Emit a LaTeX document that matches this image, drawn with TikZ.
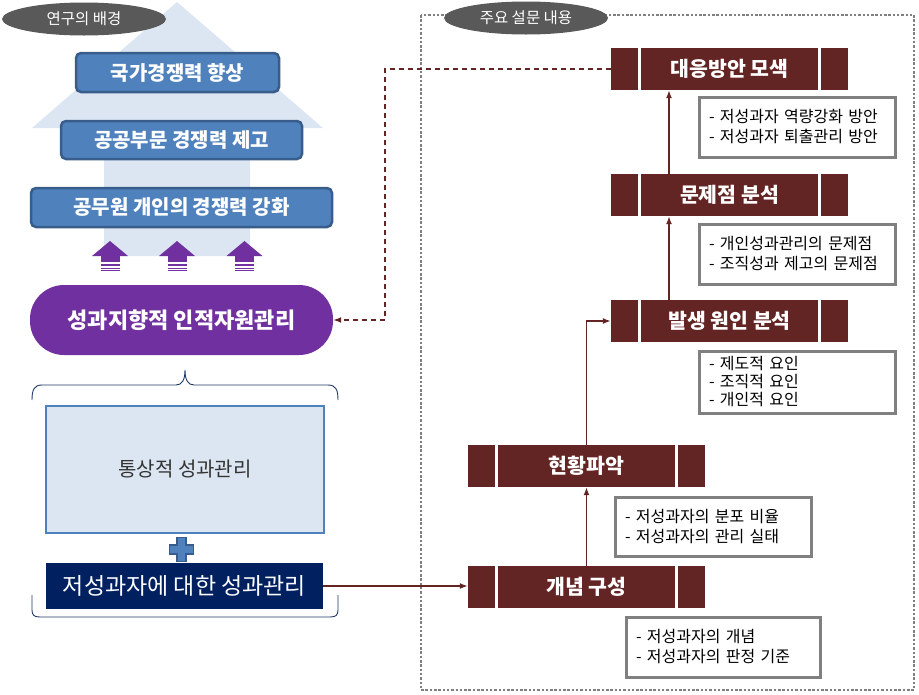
\documentclass[tikz,border=0pt]{standalone}
\usepackage{fontspec}
\setmainfont{Noto Sans CJK KR}
\usetikzlibrary{arrows.meta,shapes.geometric,calc}
\definecolor{arrowbg}{HTML}{DCE6F2}
\definecolor{bfill}{HTML}{4F81BD}
\definecolor{bdr}{HTML}{385D8A}
\definecolor{purp}{HTML}{7030A0}
\definecolor{tagc}{HTML}{595959}
\definecolor{navy}{HTML}{002060}
\definecolor{dred}{HTML}{632523}
\definecolor{lgray}{HTML}{808080}
\definecolor{bracec}{HTML}{1F3864}
\begin{document}
\begin{tikzpicture}[x=1pt,y=-1pt,
  bluebox/.style={draw=bdr, fill=bfill, line width=2.5pt, rounded corners=5pt, text=white, font=\bfseries\fontsize{20}{22}\selectfont, inner sep=0pt},
  redbox/.style={fill=dred, minimum width=237pt, minimum height=42pt, inner sep=0pt, text=white, font=\bfseries\fontsize{20.5}{22}\selectfont},
  listbox/.style={draw=lgray, line width=3pt, fill=white, text width=176pt, minimum height=60pt, inner xsep=10pt, inner ysep=3pt, align=left, font=\fontsize{16}{20}\selectfont},
  tag/.style={ellipse, fill=tagc, text=white, minimum width=164pt, minimum height=33pt, inner sep=0pt, font=\fontsize{15.5}{17}\selectfont},
  conn/.style={draw=dred, line width=1.5pt, -{Latex[length=8pt,width=6pt]}},
  dconn/.style={conn, dash pattern=on 5pt off 4pt},
  sep/.style={draw=white, line width=3pt}
]
\useasboundingbox (0,0) rectangle (919,694);

% big background arrow
\fill[arrowbg] (104,256) -- (104,128) -- (32,128) -- (177,2) -- (323,128) -- (250,128) -- (250,256) -- cycle;

% tags
\node[tag] (tag1) at (84,19) {연구의 배경};

% blue boxes
\node[bluebox, minimum width=203pt, minimum height=39pt] (b1) at (177.5,72.5) {국가경쟁력 향상};
\node[bluebox, minimum width=241pt, minimum height=38pt] (b2) at (181.5,140) {공공부문 경쟁력 제고};
\node[bluebox, minimum width=301pt, minimum height=39pt] (b3) at (181.5,207.5) {공무원 개인의 경쟁력 강화};

% purple small arrows
\foreach \cx in {110,177,244.5}{
  \fill[purp] (\cx-18,256) -- (\cx,241) -- (\cx+18,256) -- cycle;
  \fill[purp] (\cx-9.5,255.5) rectangle (\cx+9.5,262);
  \fill[purp] (\cx-9.5,263.5) rectangle (\cx+9.5,266);
  \fill[purp] (\cx-9.5,267.5) rectangle (\cx+9.5,268.8);
  \fill[purp] (\cx-9.5,269.6) rectangle (\cx+9.5,270.4);
}

% purple node
\node[fill=purp, minimum width=303pt, minimum height=70pt, rounded corners=34pt, inner sep=0pt, text=white, font=\bfseries\fontsize{22}{24}\selectfont] (pur) at (181.5,320) {성과지향적 인적자원관리};

% top brace
\draw[bracec, line width=0.9pt] (32,400) .. controls (32,390) and (34,385) .. (42,385) -- (176,385) .. controls (182,385) and (185,380) .. (185,370) .. controls (185,380) and (188,385) .. (194,385) -- (328,385) .. controls (336,385) and (338,390) .. (338,400);

% light box
\node[draw=bfill, fill=arrowbg, line width=2pt, minimum width=278pt, minimum height=127pt, inner sep=0pt, text=black!80, font=\fontsize{20}{22}\selectfont] (lb) at (185,469.5) {통상적 성과관리};

% plus sign
\filldraw[fill=bfill, draw=bdr, line width=1.5pt] (177,537.5) -- (186,537.5) -- (186,545) -- (193.5,545) -- (193.5,554) -- (186,554) -- (186,561.5) -- (177,561.5) -- (177,554) -- (169.5,554) -- (169.5,545) -- (177,545) -- cycle;

% navy box
\node[fill=navy, minimum width=277pt, minimum height=46pt, inner sep=0pt, text=white, font=\fontsize{23}{25}\selectfont] (nv) at (184.5,586) {저성과자에 대한 성과관리};

% bottom bracket
\draw[bracec, line width=0.9pt] (32,595) -- (32,610) .. controls (32,615) and (34,617) .. (40,617) -- (330,617) .. controls (336,617) and (338,615) .. (338,610) -- (338,595);

% dotted frame
\draw[lgray, line width=2.5pt, dash pattern=on 2.5pt off 1.8pt] (421,15) rectangle (914,690);
\node[tag] (tag2) at (526,18) {주요 설문 내용};

% red boxes
\node[redbox] (dy) at (729.5,69) {대응방안 모색};
\node[redbox] (ms) at (729.5,195) {문제점 분석};
\node[redbox] (bs) at (729.5,321) {발생 원인 분석};
\node[redbox] (hh) at (586.5,466) {현황파악};
\node[redbox] (gn) at (586.5,587) {개념 구성};
\foreach \n in {dy,ms,bs,hh,gn}{
  \draw[sep] ([xshift=28.5pt]\n.north west) -- ([xshift=28.5pt]\n.south west);
  \draw[sep] ([xshift=-28.5pt]\n.north east) -- ([xshift=-28.5pt]\n.south east);
}

% list boxes
\node[listbox] (l1) at (797,127) {- 저성과자 역량강화 방안\\- 저성과자 퇴출관리 방안};
\node[listbox] (l2) at (797,254) {- 개인성과관리의 문제점\\- 조직성과 제고의 문제점};
\node[listbox, minimum height=62pt, font=\fontsize{16}{18}\selectfont] (l3) at (797,382) {- 제도적 요인\\- 조직적 요인\\- 개인적 요인};
\node[listbox, minimum height=59pt] (l4) at (713,526.5) {- 저성과자의 분포 비율\\- 저성과자의 관리 실태};
\node[listbox, text width=174pt] (l5) at (723,647) {- 저성과자의 개념\\- 저성과자의 판정 기준};

% connectors
\draw[conn] (nv.east) -- (nv.east -| gn.west);
\draw[conn] (gn.north) -- (hh.south);
\draw[conn] (hh.north) |- (bs.west);
\draw[conn] ([xshift=-60.5pt]bs.north) -- ([xshift=-60.5pt]ms.south);
\draw[conn] ([xshift=-60.5pt]ms.north) -- ([xshift=-60.5pt]dy.south);
\coordinate (dk) at (385,69);
\draw[dconn] (dy.west) -- (dk) |- (pur.east);
\end{tikzpicture}
\end{document}
